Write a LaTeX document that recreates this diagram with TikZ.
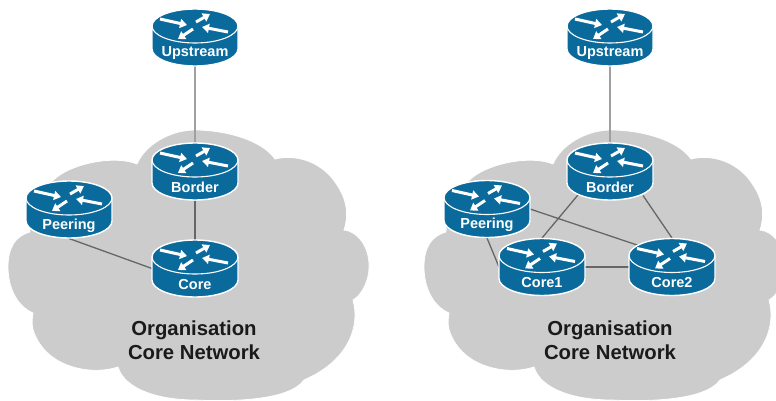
\documentclass[tikz,border=0pt]{standalone}
\usepackage{fontspec}
\setmainfont{Liberation Sans}
\usetikzlibrary{arrows.meta,calc}
\definecolor{routerblue}{HTML}{0A6A9C}
\definecolor{cloudgray}{HTML}{CCCCCC}
\definecolor{linkgray}{HTML}{666666}
\definecolor{uplinkgray}{HTML}{A0A0A0}
\definecolor{labeldark}{HTML}{1A1A1A}
\pgfdeclarelayer{cloudlayer}
\pgfdeclarelayer{linklayer}
\pgfsetlayers{cloudlayer,linklayer,main}
\tikzset{
  routerbox/.style={rectangle,minimum width=86pt,minimum height=58pt,inner sep=0pt,outer sep=0pt},
  routerbody/.style={fill=routerblue,draw=white,line width=1.4pt},
  routerrim/.style={draw=white,line width=1.1pt},
  flowarrow/.style={draw=white,line width=3pt,-{Triangle[width=9pt,length=7pt]}},
  routertext/.style={text=white,font=\bfseries\fontsize{14.5}{16}\selectfont,inner sep=0pt},
  cloudfill/.style={fill=cloudgray,draw=white,line width=0.8pt},
  link/.style={draw=linkgray,line width=1.3pt},
  uplink/.style={draw=uplinkgray,line width=1.8pt},
  cloudtext/.style={text=labeldark,align=center,font=\bfseries\fontsize{20.3}{24.5}\selectfont,inner sep=0pt},
}
\newcommand{\netrouter}[4]{%
  \node[routerbox] (#1) at (#2,#3) {};
  \begin{scope}[shift={(#2,#3)}]
    \path[routerbody] (-43,-11.5) arc[start angle=180,end angle=360,x radius=43,y radius=17]
      -- (43,11.5) arc[start angle=0,end angle=180,x radius=43,y radius=17] -- cycle;
    \path[routerrim] (-43,-11.5) arc[start angle=180,end angle=0,x radius=43,y radius=17];
    \path[flowarrow] (-35,-18.5) -- (-8,-12.5);
    \path[flowarrow] (1,-15.5) -- (15,-23.5);
    \path[flowarrow] (-2,-8.5) -- (-17,1.5);
    \path[flowarrow] (33,-5.5) -- (7,-10.5);
  \end{scope}
  \node[routertext] (#1-label) at (#2,#3+16) {#4};
}
\newcommand{\cloudshape}{%
  (8,267) .. controls (8,248) and (15,236) .. (30,232)
  .. controls (30,215) and (40,190) .. (57,177)
  .. controls (75,163) and (115,155) .. (137,164)
  .. controls (145,145) and (170,130) .. (195,130)
  .. controls (225,130) and (262,140) .. (275,159)
  .. controls (300,153) and (325,165) .. (337,185)
  .. controls (347,200) and (349,215) .. (344,230)
  .. controls (360,232) and (370,250) .. (369,268)
  .. controls (369,280) and (362,295) .. (353,300)
  .. controls (360,325) and (350,360) .. (304,380)
  .. controls (290,400) and (235,402) .. (195,400)
  .. controls (160,400) and (125,390) .. (118,367)
  .. controls (95,375) and (50,370) .. (35,335)
  .. controls (30,325) and (33,315) .. (33,313)
  .. controls (15,305) and (8,285) .. (8,267) -- cycle}
\begin{document}
\begin{tikzpicture}[x=1pt,y=-1pt]
  \useasboundingbox (0,0) rectangle (776,401);
  \begin{pgfonlayer}{cloudlayer}
    \path[cloudfill] \cloudshape;
    \begin{scope}[xshift=416pt]
      \path[cloudfill] \cloudshape;
    \end{scope}
  \end{pgfonlayer}

  % left network
  \netrouter{upa}{195}{37.5}{Upstream}
  \netrouter{bda}{195}{171.5}{Border}
  \netrouter{pra}{69}{209.5}{Peering}
  \netrouter{cra}{195}{268.5}{Core}
  \node[cloudtext] (orga) at (194,340) {Organisation\\Core Network};

  % right network
  \netrouter{upb}{610}{37.5}{Upstream}
  \netrouter{bdb}{610}{171.5}{Border}
  \netrouter{prb}{487}{209}{Peering}
  \netrouter{cob}{542}{267}{Core1}
  \netrouter{ctb}{672}{267}{Core2}
  \node[cloudtext] (orgb) at (610,340) {Organisation\\Core Network};

  \begin{pgfonlayer}{linklayer}
    \path[uplink] (upa.south) -- (bda.north);
    \path[link] (bda.south) -- (cra.north);
    \path[link] (pra.south) -- (cra.west);
    \path[uplink] (upb.south) -- (bdb.north);
    \path[link] ($(bdb.south)+(-30,-8)$) -- (cob.north);
    \path[link] ($(bdb.south)+(33,-5)$) -- (ctb.north);
    \path[link] (prb.east) -- ($(ctb.north)+(-32,8)$);
    \path[link] (prb.south) -- (cob.west);
    \path[link] (cob.east) -- (ctb.west);
  \end{pgfonlayer}
\end{tikzpicture}
\end{document}
